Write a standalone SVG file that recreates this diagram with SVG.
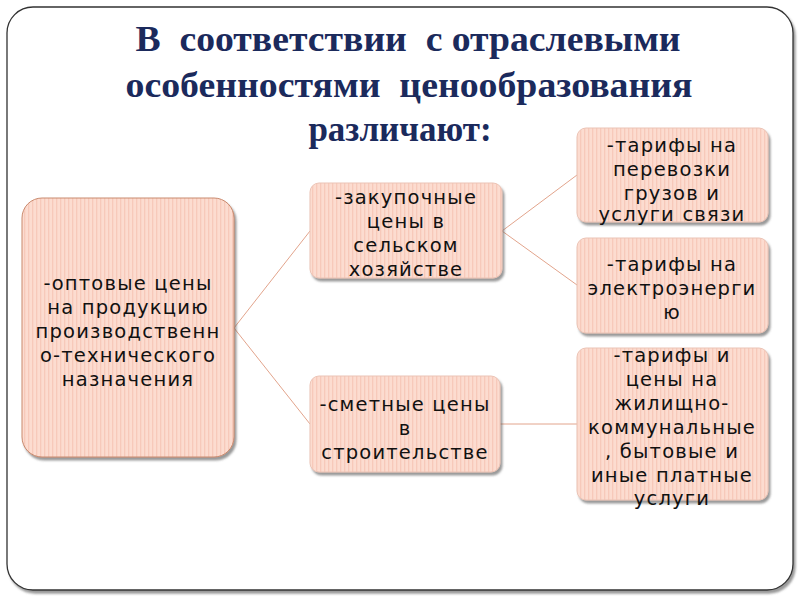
<svg xmlns="http://www.w3.org/2000/svg" width="800" height="600" viewBox="0 0 800 600">
<defs>
<pattern id="stripes" width="4" height="10" patternUnits="userSpaceOnUse">
<rect width="4" height="10" fill="#FCDCD0"/>
<rect x="0" width="1.3" height="10" fill="#F7C9BA"/>
</pattern>
<filter id="sh" x="-10%" y="-10%" width="130%" height="130%">
<feDropShadow dx="2" dy="3" stdDeviation="1.2" flood-color="#555" flood-opacity="0.6"/>
</filter>
</defs>
<style>
.title{font-family:"Liberation Serif",serif;font-weight:bold;font-size:35px;fill:#1B2A5C;text-anchor:middle}
.node{fill:url(#stripes);stroke:#EBC3B5;stroke-width:1;filter:url(#sh)}
.lbl{font-family:"DejaVu Sans",sans-serif;font-size:19.5px;fill:#111;text-anchor:middle;letter-spacing:1.2px}
.conn line{stroke:#E2A48C;stroke-width:1}
</style>
<rect x="7" y="7" width="786" height="583" rx="26" fill="#fff" stroke="#333" stroke-width="1.3" filter="url(#sh)"/>
<g id="title">
<text class="title" x="408" y="51" textLength="545" lengthAdjust="spacingAndGlyphs" xml:space="preserve">В  соответствии  с отраслевыми</text>
<text class="title" x="409" y="97" textLength="567" lengthAdjust="spacingAndGlyphs" xml:space="preserve">особенностями  ценообразования</text>
<text class="title" x="400" y="141">различают:</text>
</g>
<g class="conn" id="connectors">
<line x1="234" y1="328" x2="310" y2="231"/>
<line x1="234" y1="328" x2="310" y2="424"/>
<line x1="502" y1="231" x2="577" y2="175"/>
<line x1="502" y1="231" x2="577" y2="285"/>
<line x1="500" y1="424" x2="577" y2="424"/>
</g>
<g id="n1">
<rect class="node" x="22" y="198" width="212" height="259" rx="20" style="stroke:#C98A6E"/>
<text class="lbl"><tspan x="128" y="290">-оптовые цены</tspan><tspan x="128" y="314">на продукцию</tspan><tspan x="128" y="338">производственн</tspan><tspan x="128" y="362">о-технического</tspan><tspan x="128" y="386">назначения</tspan></text>
</g>
<g id="n2">
<rect class="node" x="310" y="183" width="192" height="95" rx="9"/>
<text class="lbl"><tspan x="406" y="204">-закупочные</tspan><tspan x="406" y="228">цены в</tspan><tspan x="406" y="252">сельском</tspan><tspan x="406" y="276">хозяйстве</tspan></text>
</g>
<g id="n3">
<rect class="node" x="310" y="376" width="190" height="96" rx="9"/>
<text class="lbl"><tspan x="405" y="411">-сметные цены</tspan><tspan x="405" y="435">в</tspan><tspan x="405" y="459">строительстве</tspan></text>
</g>
<g id="n4">
<rect class="node" x="577" y="128" width="191" height="94" rx="9"/>
<text class="lbl"><tspan x="672" y="152">-тарифы на</tspan><tspan x="672" y="176">перевозки</tspan><tspan x="672" y="200">грузов и</tspan><tspan x="672" y="221">услуги связи</tspan></text>
</g>
<g id="n5">
<rect class="node" x="577" y="238" width="191" height="95" rx="9"/>
<text class="lbl"><tspan x="672" y="271">-тарифы на</tspan><tspan x="672" y="295">электроэнерги</tspan><tspan x="672" y="319">ю</tspan></text>
</g>
<g id="n6">
<rect class="node" x="577" y="348" width="191" height="152" rx="9"/>
<text class="lbl"><tspan x="672" y="362">-тарифы и</tspan><tspan x="672" y="386">цены на</tspan><tspan x="672" y="410">жилищно-</tspan><tspan x="672" y="434">коммунальные</tspan><tspan x="672" y="458">, бытовые и</tspan><tspan x="672" y="482">иные платные</tspan><tspan x="672" y="505">услуги</tspan></text>
</g>
</svg>
